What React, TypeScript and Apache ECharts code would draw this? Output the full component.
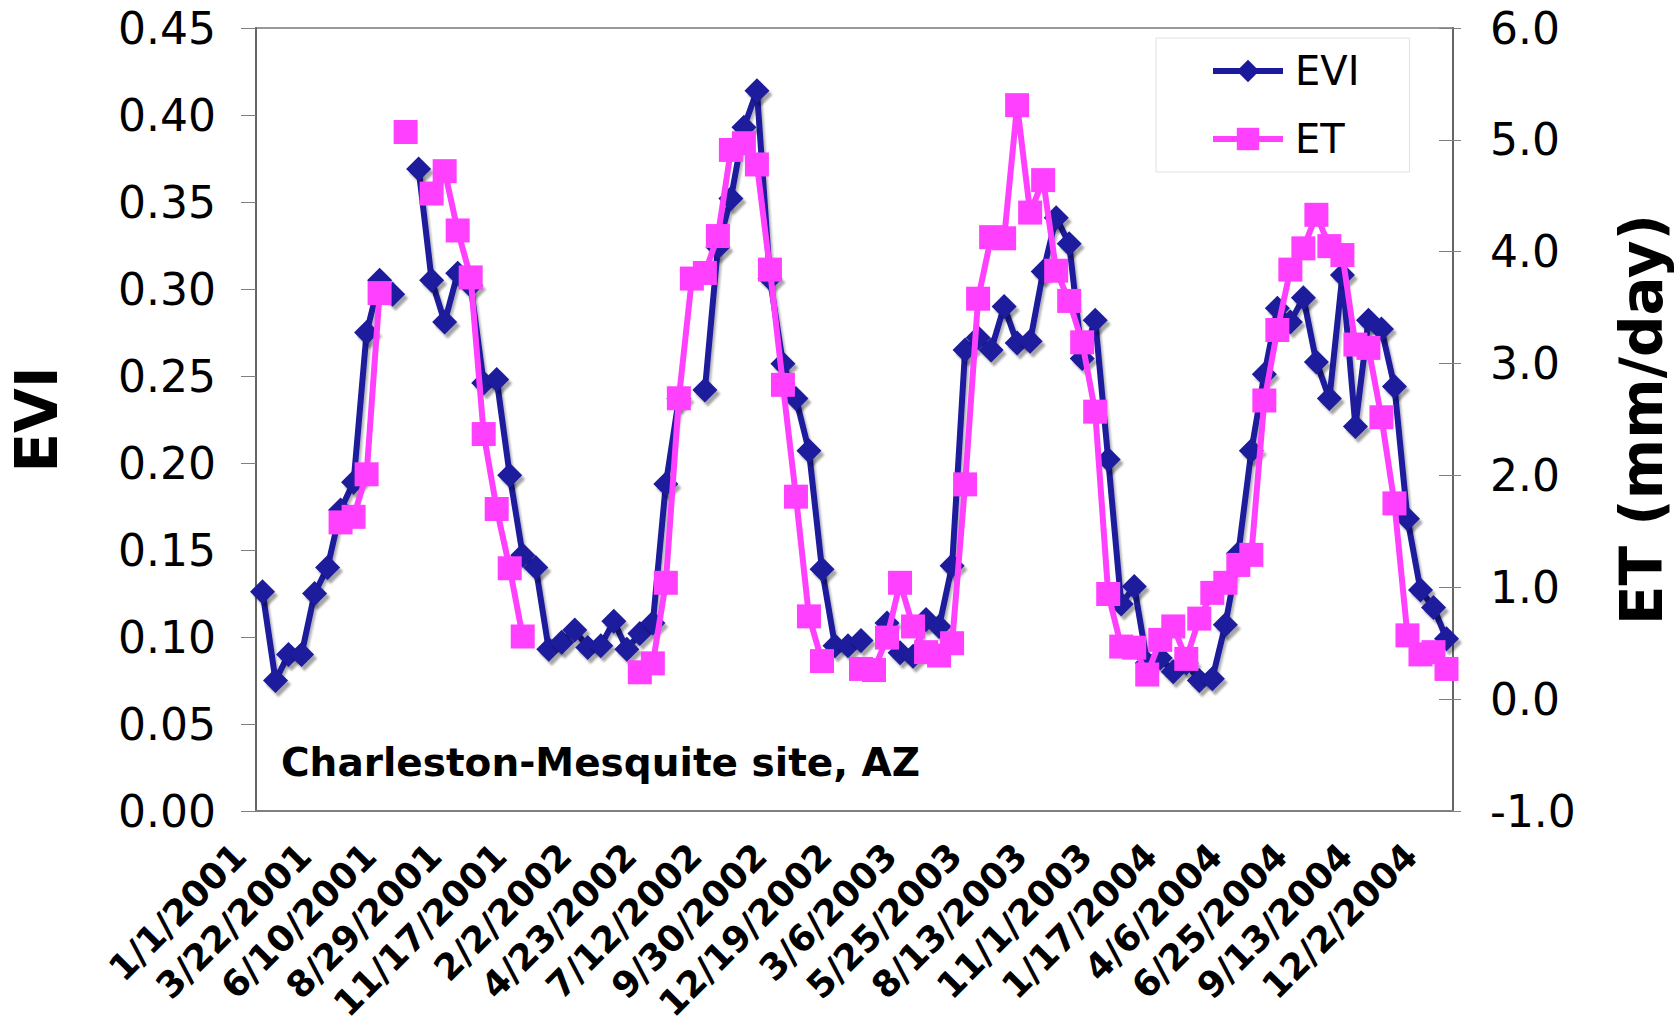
import React, { useEffect, useRef } from "react";
import * as echarts from "echarts";

// 16-day composite start dates, 23 per year
const years = [2001, 2002, 2003, 2004];
const compositeDates: string[] = [];
for (const y of years) {
  for (let k = 0; k < 23; k++) {
    const d = new Date(Date.UTC(y, 0, 1 + 16 * k));
    compositeDates.push(`${d.getUTCMonth() + 1}/${d.getUTCDate()}/${y}`);
  }
}

// Enhanced Vegetation Index (left axis)
const evi: (number | null)[] = [
  0.126, 0.075, 0.090, 0.090, 0.125, 0.140, 0.173, 0.189, 0.275, 0.305,
  0.297, null, 0.369, 0.305, 0.281, 0.309, 0.302, 0.246, 0.248, 0.193,
  0.147, 0.140, 0.093, 0.097, 0.104, 0.094, 0.095, 0.109, 0.093, 0.102,
  0.108, 0.188, 0.237, null, 0.242, 0.324, 0.352, 0.393, 0.414, 0.306,
  0.257, 0.237, 0.207, 0.139, 0.095, 0.095, 0.098, null, 0.108, 0.091,
  0.089, 0.110, 0.106, 0.141, 0.265, 0.272, 0.265, 0.290, 0.269, 0.270,
  0.310, 0.341, 0.326, 0.260, 0.282, 0.202, 0.119, 0.129, 0.085, 0.088,
  0.080, 0.085, 0.075, 0.076, 0.107, 0.148, 0.207, 0.251, 0.289, 0.281,
  0.295, 0.258, 0.237, 0.308, 0.221, 0.282, 0.277, 0.244, 0.168, 0.127,
  0.117, 0.099,
];

// Evapotranspiration, mm/day (right axis)
const et: (number | null)[] = [
  null, null, null, null, null, null, 1.58, 1.63, 2.01, 3.63,
  null, 5.07, null, 4.52, 4.72, 4.19, 3.77, 2.37, 1.70, 1.17,
  0.56, null, null, null, null, null, null, null, null, 0.24,
  0.32, 1.04, 2.69, 3.76, 3.81, 4.14, 4.91, 4.97, 4.78, 3.84,
  2.81, 1.81, 0.74, 0.34, null, null, 0.27, 0.26, 0.55, 1.04,
  0.65, 0.42, 0.39, 0.50, 1.92, 3.58, 4.13, 4.12, 5.31, 4.35,
  4.64, 3.83, 3.56, 3.19, 2.57, 0.94, 0.47, 0.46, 0.22, 0.53,
  0.65, 0.36, 0.72, 0.95, 1.04, 1.20, 1.29, 2.67, 3.30, 3.84,
  4.03, 4.33, 4.05, 3.97, 3.17, 3.14, 2.52, 1.75, 0.57, 0.40,
  0.42, 0.27,
];

const siteLabel = "Charleston-Mesquite site, AZ";

const FONT = "DejaVu Sans";
const AXIS_GRAY = "#7f7f7f";
const EVI_COLOR = "#1c1a9c";
const ET_COLOR = "#ff40ff";

export default function App() {
  const ref = useRef<HTMLDivElement>(null);

  useEffect(() => {
    if (!ref.current) return;
    const chart = echarts.init(ref.current, undefined, { renderer: "svg" });

    chart.setOption({
      animation: false,
      backgroundColor: "#ffffff",
      grid: {
        left: 256,
        right: 226,
        top: 28,
        bottom: 225,
        outerBoundsMode: "none",
        containLabel: false,
        show: true,
        borderColor: "#999999",
        borderWidth: 2,
        backgroundColor: "transparent",
      },
      legend: {
        orient: "vertical",
        left: 1156,
        top: 38,
        padding: [13, 50, 13, 54],
        itemWidth: 70,
        itemHeight: 28,
        itemGap: 28,
        borderColor: "#e2e2e2",
        borderWidth: 1,
        backgroundColor: "#ffffff",
        lineStyle: { width: 6 },
        textStyle: {
          fontFamily: FONT,
          fontSize: 40,
          color: "#000",
          lineHeight: 40,
          padding: [0, 0, 0, 7],
        },
        data: ["EVI", "ET"],
      },
      xAxis: {
        type: "category",
        data: compositeDates,
        boundaryGap: true,
        axisLine: { lineStyle: { color: AXIS_GRAY, width: 2 } },
        axisTick: {
          interval: 0,
          alignWithLabel: false,
          length: 11,
          lineStyle: { color: AXIS_GRAY, width: 1 },
        },
        axisLabel: {
          interval: 4,
          rotate: 45,
          margin: 16,
          padding: [0, 32, 0, 0],
          fontFamily: FONT,
          fontWeight: "bold",
          fontSize: 36,
          color: "#000",
        },
        splitLine: { show: false },
      },
      yAxis: [
        {
          type: "value",
          position: "left",
          min: 0,
          max: 0.45,
          interval: 0.05,
          name: "EVI",
          nameLocation: "middle",
          nameGap: 190,
          nameRotate: 90,
          nameTextStyle: {
            fontFamily: FONT,
            fontWeight: "bold",
            fontSize: 58,
            color: "#000",
          },
          axisLine: { show: true, lineStyle: { color: "#666666", width: 2 } },
          axisTick: { show: true, length: 15, lineStyle: { color: AXIS_GRAY } },
          axisLabel: {
            margin: 40,
            fontFamily: FONT,
            fontSize: 44,
            color: "#000",
            formatter: (v: number) => v.toFixed(2),
          },
          splitLine: { show: false },
        },
        {
          type: "value",
          position: "right",
          min: -1,
          max: 6,
          interval: 1,
          name: "ET (mm/day)",
          nameLocation: "middle",
          nameGap: 160,
          nameRotate: 90,
          nameTextStyle: {
            fontFamily: FONT,
            fontWeight: "bold",
            fontSize: 58,
            color: "#000",
          },
          axisLine: { show: true, lineStyle: { color: "#666666", width: 2 } },
          axisTick: { show: true, inside: true, length: 14, lineStyle: { color: AXIS_GRAY } },
          axisLabel: {
            margin: 37,
            fontFamily: FONT,
            fontSize: 44,
            color: "#000",
            formatter: (v: number) => v.toFixed(1),
          },
          splitLine: { show: false },
        },
        {
          // outer half of the crossing ticks on the ET axis
          type: "value",
          position: "right",
          min: -1,
          max: 6,
          interval: 1,
          axisLine: { show: false },
          axisTick: { show: true, inside: false, length: 8, lineStyle: { color: AXIS_GRAY } },
          axisLabel: { show: false },
          splitLine: { show: false },
        },
      ],
      graphic: [
        {
          type: "text",
          left: 281,
          top: 743,
          z: 100,
          style: {
            text: siteLabel,
            font: `bold 39px "${FONT}"`,
            fill: "#000",
          },
        },
      ],
      series: [
        {
          name: "EVI",
          type: "line",
          yAxisIndex: 0,
          data: evi,
          connectNulls: false,
          symbol: "diamond",
          symbolSize: 25,
          showAllSymbol: true,
          lineStyle: {
            color: EVI_COLOR,
            width: 6,
            shadowColor: "rgba(0,0,0,0.3)",
            shadowBlur: 2,
            shadowOffsetX: 2,
            shadowOffsetY: 3,
          },
          itemStyle: {
            color: EVI_COLOR,
            shadowColor: "rgba(0,0,0,0.35)",
            shadowBlur: 2,
            shadowOffsetX: 3,
            shadowOffsetY: 4,
          },
          emphasis: { disabled: true },
          z: 2,
        },
        {
          name: "ET",
          type: "line",
          yAxisIndex: 1,
          data: et,
          connectNulls: false,
          symbol: "rect",
          symbolSize: 24,
          showAllSymbol: true,
          lineStyle: { color: ET_COLOR, width: 6 },
          itemStyle: { color: ET_COLOR },
          emphasis: { disabled: true },
          z: 3,
        },
      ],
    });

    return () => chart.dispose();
  }, []);

  return (
    <div
      ref={ref}
      style={{ position: "absolute", left: 0, top: 0, width: 1679, height: 1036 }}
    />
  );
}
